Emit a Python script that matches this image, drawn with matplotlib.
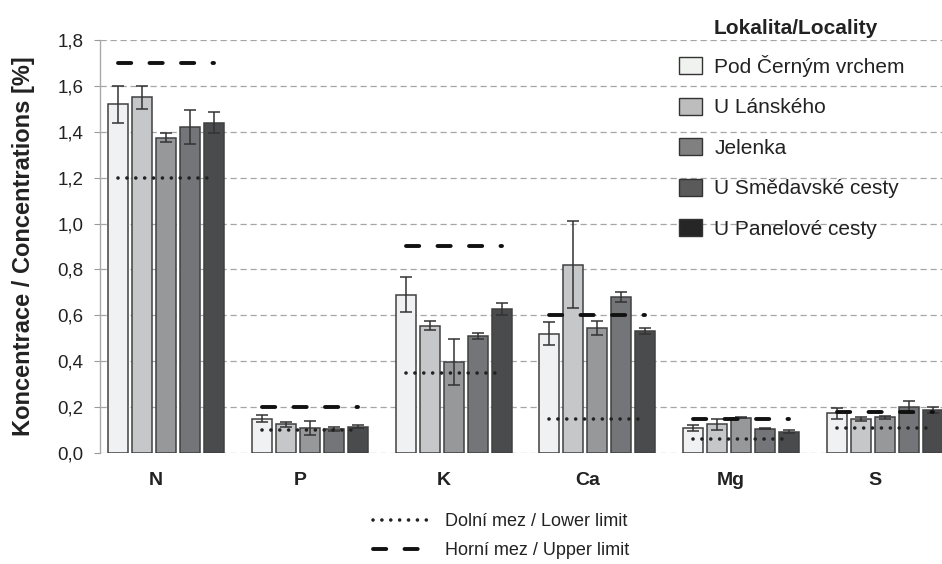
import matplotlib
matplotlib.use("Agg")
import matplotlib.pyplot as plt, numpy as np
from matplotlib.patches import Patch
from matplotlib.lines import Line2D
from matplotlib.ticker import FuncFormatter

plt.rcParams["font.family"] = ["Liberation Sans", "DejaVu Sans"]

# data
elements = ['N', 'P', 'K', 'Ca', 'Mg', 'S']
localities = ['Pod Černým vrchem', 'U Lánského', 'Jelenka', 'U Smědavské cesty', 'U Panelové cesty']

pod_cernym = [1.52, 0.150, 0.690, 0.520, 0.110, 0.173]
u_lanskeho = [1.55, 0.125, 0.555, 0.820, 0.125, 0.148]
jelenka = [1.375, 0.110, 0.395, 0.545, 0.154, 0.155]
u_smedavske = [1.42, 0.105, 0.510, 0.680, 0.105, 0.200]
u_panelove = [1.44, 0.115, 0.628, 0.530, 0.093, 0.187]

err_pod_cernym = [0.080, 0.017, 0.075, 0.050, 0.012, 0.025]
err_u_lanskeho = [0.050, 0.010, 0.020, 0.190, 0.023, 0.010]
err_jelenka = [0.020, 0.030, 0.100, 0.030, 0.003, 0.007]
err_u_smedavske = [0.075, 0.010, 0.013, 0.020, 0.002, 0.027]
err_u_panelove = [0.045, 0.005, 0.025, 0.013, 0.006, 0.012]

lower_limit = [1.2, 0.10, 0.35, 0.15, 0.06, 0.11]
upper_limit = [1.7, 0.20, 0.90, 0.60, 0.15, 0.18]

values = [pod_cernym, u_lanskeho, jelenka, u_smedavske, u_panelove]
errors = [err_pod_cernym, err_u_lanskeho, err_jelenka, err_u_smedavske, err_u_panelove]

bar_colors = ['#f0f1f2', '#c6c7c9', '#97989a', '#747578', '#4a4b4d']
legend_colors = ['#f0f2f0', '#bdbdbd', '#808080', '#5a5a5a', '#262626']

fig = plt.figure(figsize=(9.42, 5.64), dpi=100)
ax = fig.add_axes([100/942, 1-453/564, 842/942, 413/564])

x = np.arange(len(elements))
pitch = 0.167
width = 0.139
offsets = (np.arange(len(localities)) - 2) * pitch

for i in range(len(localities)):
	ax.bar(x + offsets[i], values[i], width=width, color=bar_colors[i], edgecolor='#404040',
		   linewidth=1.1, zorder=3)
	ax.errorbar(x + offsets[i], values[i], yerr=errors[i], fmt='none', ecolor='#333333',
				elinewidth=1.1, capsize=4, capthick=1.1, zorder=5)

# limit lines from the first to the last bar of each group
dot_style = dict(color='#222222', lw=2.6, dashes=(0.01, 2.45), dash_capstyle='round')
dash_style = dict(color='#111111', lw=2.8, dashes=(3.4, 4.7), dash_capstyle='round')
for j in range(len(elements)):
	xs = [x[j] + offsets[0], x[j] + offsets[-1]]
	ax.plot(xs, [lower_limit[j]] * 2, zorder=6, **dot_style)
	ax.plot(xs, [upper_limit[j]] * 2, zorder=6, **dash_style)

ax.set_xlim(-0.459, 5.396)
ax.set_ylim(0, 1.8)
ax.set_yticks(np.arange(0, 1.81, 0.2))
ax.yaxis.set_major_formatter(FuncFormatter(lambda v, p: ('%.1f' % v).replace('.', ',')))
ax.set_xticks(x - 0.07)
ax.set_xticklabels(elements, fontsize=14, fontweight='bold', color='#222222')
ax.tick_params(axis='x', length=0, pad=14)
ax.tick_params(axis='y', length=4, width=0.8, color='#999999', labelsize=13.5, pad=8, labelcolor='#222222')
ax.grid(axis='y', color='#a6a6a6', lw=0.9, dashes=(5, 3), zorder=0)
ax.set_axisbelow(True)
for s in ['top', 'right', 'bottom']:
	ax.spines[s].set_visible(False)
ax.spines['left'].set_color('#aaaaaa')
ax.spines['left'].set_linewidth(1)
ax.set_ylabel('Koncentrace / Concentrations [%]', fontsize=17, fontweight='bold', labelpad=16, color='#222222')

fig.text(714/942, 1 - 28/564, 'Lokalita/Locality', fontsize=15, fontweight='bold', va='center', ha='left', color='#222222')
handles = [Patch(facecolor=c, edgecolor='#333333', linewidth=1) for c in legend_colors]
fig.legend(handles, localities, loc='upper left', bbox_to_anchor=(679/942, 1 - 55/564),
		   frameon=False, fontsize=15, borderpad=0, borderaxespad=0, labelcolor='#222222',
		   handlelength=1.1, handleheight=0.87, handletextpad=0.6, labelspacing=1.0)

lim_handles = [Line2D([], [], **dot_style), Line2D([], [], **dash_style)]
fig.legend(lim_handles, ['Dolní mez / Lower limit', 'Horní mez / Upper limit'], loc='upper left',
		   bbox_to_anchor=(373/942, 1 - 513/564), frameon=False, fontsize=13,
		   borderpad=0, borderaxespad=0, handlelength=3.3, handletextpad=0.7,
		   labelspacing=0.67, labelcolor='#222222')

plt.savefig('out.png', dpi=100)
